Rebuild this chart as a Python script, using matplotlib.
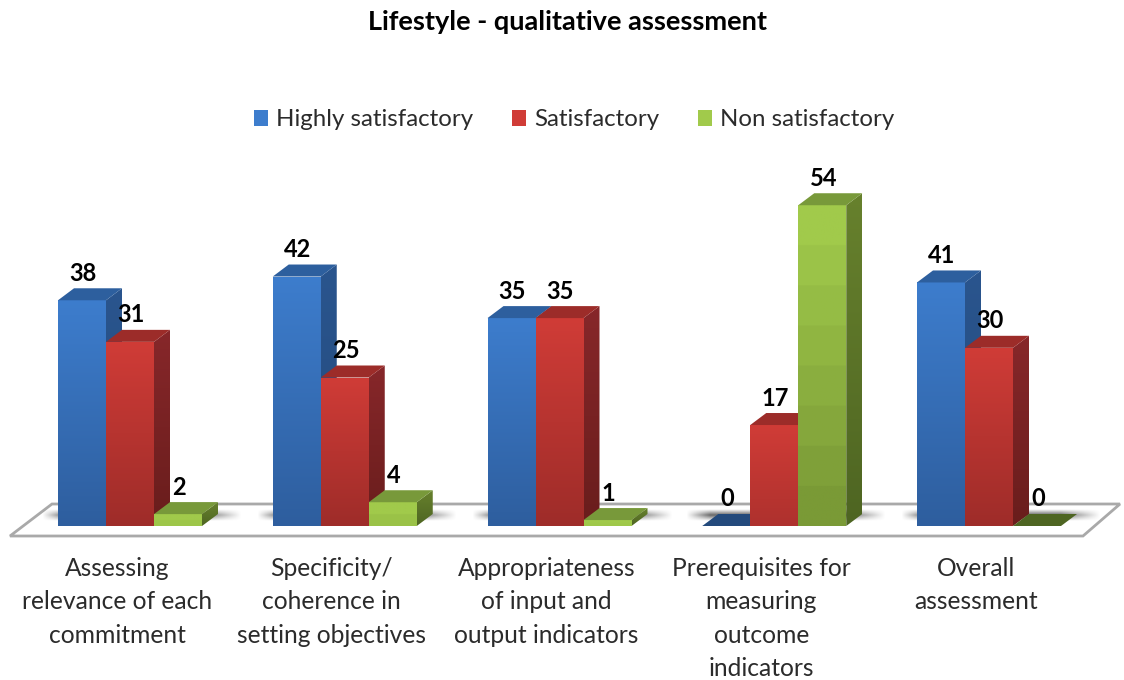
import matplotlib
matplotlib.use("Agg")
import matplotlib.pyplot as plt
import numpy as np
from matplotlib.colors import to_rgb
from matplotlib.patches import Polygon, Rectangle

#-----------------------------------------------------
# DATA
#-----------------------------------------------------
categories = [
    "Assessing\nrelevance of each\ncommitment",
    "Specificity/\ncoherence in\nsetting objectives",
    "Appropriateness\nof input and\noutput indicators",
    "Prerequisites for\nmeasuring\noutcome\nindicators",
    "Overall\nassessment",
]
series_names = ["Highly satisfactory", "Satisfactory", "Non satisfactory"]
highly = [38, 42, 35, 0, 41]
satisfactory = [31, 25, 35, 17, 30]
non_satisfactory = [2, 4, 1, 54, 0]
title = "Lifestyle - qualitative assessment"

# front top, front bottom, side top, side bottom, top face
blue = ["#3d7dcd", "#2e5e9e", "#2a558e", "#234a7c", "#2d5f9e"]
red = ["#d03c37", "#9e2c29", "#87272a", "#691d1c", "#9c2c29"]
green = ["#a1ca4b", "#7a9a36", "#67812d", "#4e6522", "#78993a"]

#-----------------------------------------------------
# SCALES (figure is 1124x680, axes fill it)
#-----------------------------------------------------
W, H = 1124, 680
PX_X = 214.75        # pixels per category
PX_Y = 5.94          # pixels per value unit
X0, Y0 = 130, 526    # pixel position of first group centre and baseline
bar_w = 48 / PX_X
dx = 16 / PX_X
dy = 12 / PX_Y

fig = plt.figure(figsize=(W / 100, H / 100), dpi=100)
ax = fig.add_axes([0, 0, 1, 1])
xlim = (-X0 / PX_X, (W - X0) / PX_X)
ylim = (-(H - Y0) / PX_Y, Y0 / PX_Y)
plt.rcParams["font.family"] = ["Lato", "DejaVu Sans"]


def gradient(top, bottom, x0, x1, y0, y1, clip, z, bands=None):
    t = np.linspace(0, 1, 256)
    if bands:
        t = np.floor(t * bands) / max(bands - 1, 1)
        t = np.clip(t, 0, 1)
    c0, c1 = np.array(to_rgb(top)), np.array(to_rgb(bottom))
    img = (c0[None, :] * (1 - t[:, None]) + c1[None, :] * t[:, None])[:, None, :]
    im = ax.imshow(img, extent=(x0, x1, y0, y1), aspect="auto", zorder=z,
                   interpolation="bilinear", origin="upper")
    im.set_clip_path(Polygon(clip, transform=ax.transData))


def shadow(x0, x1, z):
    # soft floor shadow behind a bar group
    xs = np.linspace(0, 1, 200)
    ys = np.linspace(-1, 1, 30)
    edge = np.minimum(np.clip(xs / 0.12, 0, 1), np.clip((1 - xs) / 0.2, 0, 1))
    a = np.outer(np.clip(1 - np.abs(ys), 0, 1), edge) * 0.6
    img = np.zeros((30, 200, 4))
    img[..., 3] = a
    ax.imshow(img, extent=(x0, x1, 0.9, 2.9), aspect="auto", zorder=z,
              interpolation="bilinear")


# floor
floor = [(-120 / PX_X, -10 / PX_Y), (-78 / PX_X, 22 / PX_Y),
         (990 / PX_X, 22 / PX_Y), (953 / PX_X, -10 / PX_Y)]
ax.add_patch(Polygon(floor, closed=True, fc="white", ec="#a9a9a9", lw=2, zorder=1))

#-----------------------------------------------------
# BARS
#-----------------------------------------------------
series = [highly, satisfactory, non_satisfactory]
styles = [blue, red, green]
z = 3
for i in range(len(categories)):
    left = i - 1.5 * bar_w
    shadow(left - 16 / PX_X, left + 3 * bar_w + 40 / PX_X, 2)
    for j, (vals, st) in enumerate(zip(series, styles)):
        v = vals[i]
        x0 = left + j * bar_w
        x1 = x0 + bar_w
        # short bars do not reach the dark end of the gradient
        f = min(1, v / 25)
        mix = np.array(to_rgb(st[0])) * (1 - f) + np.array(to_rgb(st[1])) * f
        bands = max(2, int(v * PX_Y / 40)) if st is green else None
        if v > 0:
            gradient(st[2], st[3], x1, x1 + dx, 0, v + dy,
                     [(x1, 0), (x1 + dx, dy), (x1 + dx, v + dy), (x1, v)], z)
            gradient(st[0], mix, x0, x1, 0, v,
                     [(x0, 0), (x1, 0), (x1, v), (x0, v)], z + 1, bands)
        ax.add_patch(Polygon([(x0, v), (x1, v), (x1 + dx, v + dy), (x0 + dx, v + dy)],
                             closed=True, fc=st[4] if v > 0 else "#234a7c" if j == 0 else "#4e6522",
                             ec="none", zorder=z + 2))
        z += 3

# value labels sit above the depth offset
for i in range(len(categories)):
    left = i - 1.5 * bar_w
    for j, vals in enumerate(series):
        ax.text(left + (j + 0.5) * bar_w + 1 / PX_X, vals[i] + dy + 15 / PX_Y, str(vals[i]),
                ha="center", va="center", fontsize=17, fontweight="bold",
                color="black", zorder=200)

# category labels
for i, c in enumerate(categories):
    ax.text(i - 13 / PX_X, -31 / PX_Y, c, ha="center", va="top", fontsize=17.7,
            color="#2b2b2b", linespacing=1.55, zorder=200)

#-----------------------------------------------------
# TITLE, LEGEND, LIMITS
#-----------------------------------------------------
ax.text((568 - X0) / PX_X, (Y0 - 22) / PX_Y, title, ha="center", va="center",
        fontsize=19.5, fontweight="bold", color="black")

handles = [Rectangle((0, 0), 1, 1, fc=st[0], ec="none") for st in styles]
leg = ax.legend(handles, series_names, ncol=3, frameon=False, fontsize=17.3,
                loc="center", bbox_to_anchor=(574 / W, 1 - 120 / H),
                handlelength=0.6, handleheight=0.6, handletextpad=0.33,
                columnspacing=1.6, labelcolor="#2b2b2b")

ax.set_xlim(xlim)
ax.set_ylim(ylim)
ax.axis("off")

fig.savefig("out.png", dpi=100)
